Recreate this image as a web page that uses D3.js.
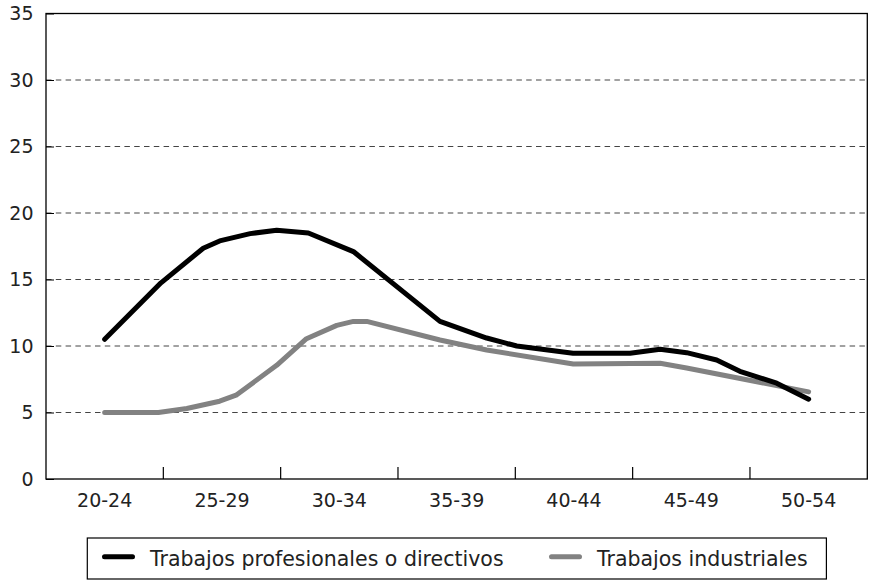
<!doctype html>
<html>
<head>
<meta charset="utf-8" />
<script src="https://cdn.jsdelivr.net/npm/d3@7"></script>
<style>
  body { margin: 0; background: #fff; }
  svg { display: block; }
  text { font-family: "DejaVu Sans", sans-serif; fill: #222; }
</style>
</head>
<body>
<div id="chart"></div>
<script>
// categories on the x axis (age groups)
var categories = ["20-24", "25-29", "30-34", "35-39", "40-44", "45-49", "50-54"];
var yTicks = [0, 5, 10, 15, 20, 25, 30, 35];

// line points: age position (22 = middle of 20-24) and value
var profAges   = [22, 24.4, 26.2, 26.9, 28.2, 29.33, 30.68, 32.6, 36.29, 38.28, 39.56, 41.96, 44.39, 45.67, 46.8, 48.08, 49.07, 50.64, 52];
var profValues = [10.5, 14.75, 17.35, 17.9, 18.45, 18.7, 18.5, 17.1, 11.85, 10.6, 10.0, 9.45, 9.45, 9.75, 9.5, 8.95, 8.1, 7.2, 6.0];

var indAges   = [22, 24.29, 25.5, 26.9, 27.6, 29.33, 30.6, 31.89, 32.6, 33.17, 36.29, 38.28, 41.97, 45.67, 46.8, 52];
var indValues = [5.0, 5.0, 5.3, 5.85, 6.3, 8.55, 10.55, 11.55, 11.85, 11.85, 10.45, 9.7, 8.65, 8.7, 8.35, 6.55];

var seriesNames = ["Trabajos profesionales o directivos", "Trabajos industriales"];
var seriesColors = ["#000", "#828282"];

var W = 869, H = 580;
var plotL = 46, plotR = 867.3, plotT = 13.5, plotB = 479;

var svg = d3.select("#chart").append("svg").attr("width", W).attr("height", H);

var xBand = d3.scaleBand().domain(categories).range([plotL, plotR]).padding(0);
var xAge = d3.scaleLinear().domain([19.5, 54.5]).range([plotL, plotR]);
var y = d3.scaleLinear().domain([0, 35]).range([plotB, plotT]);

// dashed gridlines
svg.append("g").selectAll("line")
  .data(yTicks.filter(function (d) { return d > 0 && d < 35; }))
  .join("line")
  .attr("x1", plotL).attr("x2", plotR)
  .attr("y1", function (d) { return y(d); }).attr("y2", function (d) { return y(d); })
  .attr("stroke", "#444").attr("stroke-width", 1)
  .attr("stroke-dasharray", "5.5,4.3");

// y axis labels + small inner ticks
var yAxis = svg.append("g").attr("transform", "translate(" + plotL + ",0)")
  .call(d3.axisLeft(y).tickValues(yTicks).tickSize(-8).tickPadding(12.5).tickFormat(d3.format("d")));
yAxis.select(".domain").remove();
yAxis.selectAll(".tick line").attr("stroke", "#000");
yAxis.selectAll(".tick text").attr("font-size", 19).attr("font-family", "DejaVu Sans").attr("fill", "#222");

// x axis labels
var xAxis = svg.append("g").attr("transform", "translate(0," + plotB + ")")
  .call(d3.axisBottom(xBand).tickSize(0));
xAxis.select(".domain").remove();
xAxis.selectAll(".tick text")
  .attr("y", 28.3).attr("dy", 0)
  .attr("font-size", 19).attr("font-family", "DejaVu Sans").attr("fill", "#222");

// tick marks between categories
svg.append("g").selectAll("line")
  .data(categories.slice(1))
  .join("line")
  .attr("x1", function (d) { return xBand(d); }).attr("x2", function (d) { return xBand(d); })
  .attr("y1", plotB).attr("y2", plotB - 12)
  .attr("stroke", "#000").attr("stroke-width", 1.2);

// frame
svg.append("rect")
  .attr("x", plotL).attr("y", plotT)
  .attr("width", plotR - plotL).attr("height", plotB - plotT)
  .attr("fill", "none").attr("stroke", "#000").attr("stroke-width", 1.3);

var line = d3.line()
  .x(function (d) { return xAge(d[0]); })
  .y(function (d) { return y(d[1]); });

var series = [
  d3.zip(profAges, profValues),
  d3.zip(indAges, indValues)
];

// gray first so black stays on top
[1, 0].forEach(function (i) {
  svg.append("path")
    .datum(series[i])
    .attr("d", line)
    .attr("fill", "none")
    .attr("stroke", seriesColors[i])
    .attr("stroke-width", 5)
    .attr("stroke-linejoin", "round")
    .attr("stroke-linecap", "round");
});

// legend
var lg = svg.append("g");
lg.append("rect")
  .attr("x", 87.3).attr("y", 538).attr("width", 826.4 - 87.3).attr("height", 41)
  .attr("fill", "#fff").attr("stroke", "#000").attr("stroke-width", 1.2);

var legendX = [104.5, 551.5];
seriesNames.forEach(function (name, i) {
  lg.append("line")
    .attr("x1", legendX[i]).attr("x2", legendX[i] + 28)
    .attr("y1", 556.7).attr("y2", 556.7)
    .attr("stroke", seriesColors[i]).attr("stroke-width", 5)
    .attr("stroke-linecap", "round");
  lg.append("text")
    .attr("x", legendX[i] + 45.5).attr("y", 566)
    .attr("font-size", 20.5)
    .text(name);
});
</script>
</body>
</html>
